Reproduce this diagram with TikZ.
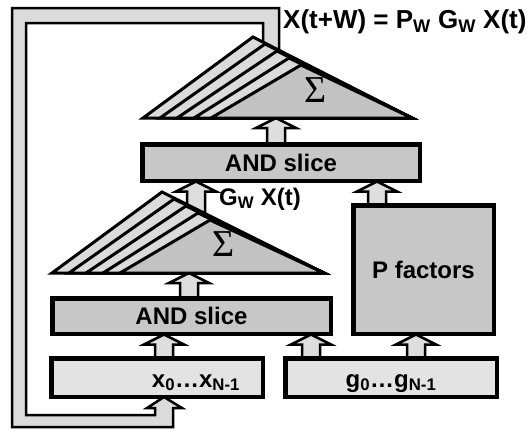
\documentclass[tikz,border=0pt]{standalone}
\usepackage{fontspec}
\setmainfont{Liberation Sans}
\newfontfamily\sigfont{Liberation Serif}
\usetikzlibrary{calc}
\definecolor{pipecol}{gray}{0.86}
\definecolor{andcol}{gray}{0.78}
\definecolor{inpcol}{gray}{0.89}
\definecolor{stripecol}{gray}{0.86}
\definecolor{frontcol}{gray}{0.76}
\definecolor{arrcol}{gray}{0.87}
\newcommand\blockup[3]{%
  \draw[barrow] let \p1=(#2), \p2=(#3) in
    (#1pt-9pt,\y2) -- (#1pt-9pt,\y1-10pt) -- (#1pt-20pt,\y1-10pt) -- (#1pt,\y1)
    -- (#1pt+20pt,\y1-10pt) -- (#1pt+9pt,\y1-10pt) -- (#1pt+9pt,\y2) -- cycle;}
\begin{document}
\begin{tikzpicture}[x=1pt,y=1pt,
  box/.style={draw=black,line width=3pt,rectangle,inner sep=0pt},
  barrow/.style={draw=black,line width=2.5pt,fill=arrcol,line join=miter},
  tri/.style={draw=black,line width=3pt},
  sig/.style={inner sep=0pt,font=\sigfont\fontsize{38}{38}\selectfont},
  lbl/.style={inner sep=0pt,font=\fontsize{24}{24}\selectfont\bfseries}]
\useasboundingbox (0,0) rectangle (528,-429);
% feedback pipe with its arrow into the x box
\filldraw[draw=black,line width=2.5pt,fill=pipecol]
  (147,-408) -- (164,-397) -- (182,-408) -- (173,-408) -- (173,-427) -- (12,-427)
  -- (12,-8) -- (279,-8) -- (279,-52) -- (263,-52) -- (263,-23) -- (26,-23)
  -- (26,-415) -- (155,-415) -- (155,-408) -- cycle;
% coordinates of the two summation triangles
\coordinate (tL) at (143,-118); \coordinate (tA) at (253,-37); \coordinate (tR) at (412,-118);
\coordinate (bL) at (52,-273);  \coordinate (bA) at (162,-192); \coordinate (bR) at (324,-273);
% boxes
\node[box,fill=andcol,minimum width=276pt,minimum height=35pt] (andup) at (281,-162.5) {};
\node[box,fill=andcol,minimum width=277pt,minimum height=34pt] (andlow) at (191.5,-316) {};
\node[box,fill=andcol,minimum width=139pt,minimum height=127pt] (pfac) at (423.5,-269.5) {};
\node[box,fill=inpcol,minimum width=210pt,minimum height=37pt] (xbox) at (157,-377.5) {};
\node[box,fill=inpcol,minimum width=210pt,minimum height=37pt] (gbox) at (391,-377.5) {};
% block arrows
\blockup{276}{tL}{andup.north}
\blockup{196}{andup.south}{$(bA)+(0,-28)$}
\blockup{377}{andup.south}{pfac.north}
\blockup{189}{bL}{andlow.north}
\blockup{164}{andlow.south}{xbox.north}
\blockup{311}{andlow.south}{gbox.north}
\blockup{416}{pfac.south}{gbox.north}
% redraw box borders over arrow ends
\foreach \n in {andup,andlow,pfac,xbox,gbox}
  \draw[line width=3pt] (\n.north west) rectangle (\n.south east);
% stacked summation triangles
\foreach \i/\f in {0/stripecol,1/stripecol,2/stripecol,3/stripecol,4/frontcol}{
  \filldraw[tri,fill=\f] ($(tL)+(17*\i,0)$) -- ($(tA)+(12*\i,-7*\i)$) -- (tR) -- cycle;
  \filldraw[tri,fill=\f] ($(bL)+(17*\i,0)$) -- ($(bA)+(12*\i,-7*\i)$) -- (bR) -- cycle;
}
\node[sig] (sigtop) at (316,-90) {Σ};
\node[sig] (sigbot) at (224,-244) {Σ};
% labels
\node[lbl] (andupt) at (andup.center) {AND slice};
\node[lbl] (andlowt) at (andlow.center) {AND slice};
\node[lbl] (pfact) at (pfac.center) {P factors};
\node[lbl,anchor=base] (xt) at (196,-387) {x\textsubscript{0}\ldots x\textsubscript{N-1}};
\node[lbl,anchor=base] (gt) at (391,-387) {g\textsubscript{0}\ldots g\textsubscript{N-1}};
\node[lbl,anchor=west] (gw) at (219,-199) {G\textsubscript{W} X(t)};
\node[inner sep=0pt,anchor=west,font=\fontsize{26}{26}\selectfont\bfseries] (eq) at (283,-22)
  {X(t+W) = P\textsubscript{W} G\textsubscript{W} X(t)};
\end{tikzpicture}
\end{document}
